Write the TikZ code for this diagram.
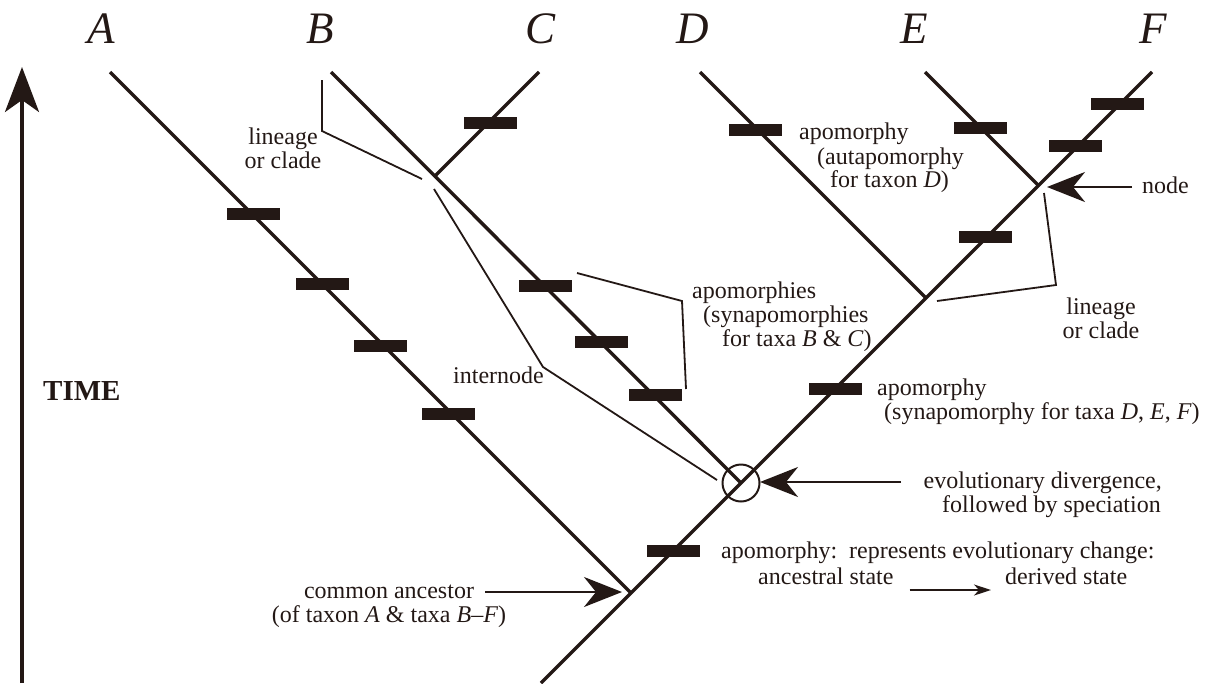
\documentclass[tikz,border=0pt]{standalone}
\usepackage{fontspec}
\setmainfont{Liberation Serif}
\usetikzlibrary{arrows.meta}
\definecolor{ink}{HTML}{231815}
\begin{document}
\begin{tikzpicture}[x=1pt,y=-1pt,
  branch/.style={draw=ink,line width=3.4pt},
  leader/.style={draw=ink,line width=1.8pt},
  apobar/.style={fill=ink,draw=none,rectangle,minimum width=53pt,minimum height=12pt,inner sep=0pt},
  lbl/.style={inner sep=0pt,text=ink,font=\fontsize{24}{24}\selectfont},
  taxon/.style={inner sep=0pt,text=ink,font=\fontsize{45}{45}\selectfont\itshape,anchor=base},
  bigarrow/.style={draw=ink,line width=2.4pt,-{Stealth[length=38pt,width=30pt,inset=12pt]}},
  smallarrow/.style={draw=ink,line width=1.6pt,-{Stealth[length=17pt,width=11pt,inset=5pt]}},
]
\useasboundingbox (0,0) rectangle (1212,683);

% ---------- time axis ----------
\coordinate (tbot) at (22,683);
\coordinate (ttop) at (22,67);
\draw[draw=ink,line width=3.5pt,-{Stealth[length=45pt,width=34pt,inset=12pt]}] (tbot) -- (ttop);
\node[inner sep=0pt,text=ink,font=\fontsize{29}{29}\selectfont\bfseries,anchor=base west] (time) at (43,400) {TIME};

% ---------- tree coordinates ----------
\coordinate (root) at (541,683);
\coordinate (ca) at (631,593);
\coordinate (dv) at (741,483);
\coordinate (dj) at (926,298);
\coordinate (ej) at (1038.5,185.5);
\coordinate (bc) at (435,176);
\coordinate (Atop) at (110,72);
\coordinate (Btop) at (331,72);
\coordinate (Ctop) at (539,72);
\coordinate (Dtop) at (700,72);
\coordinate (Etop) at (925,72);
\coordinate (Ftop) at (1152,72);

% ---------- branches ----------
\draw[branch] (root) -- (Ftop);
\draw[branch] (ca) -- (Atop);
\draw[branch] (dv) -- (Btop);
\draw[branch] (bc) -- (Ctop);
\draw[branch] (dj) -- (Dtop);
\draw[branch] (ej) -- (Etop);

% ---------- taxon letters ----------
\node[taxon] (tA) at (101,43) {A};
\node[taxon] (tB) at (320,43) {B};
\node[taxon] (tC) at (541,43) {C};
\node[taxon] (tD) at (693,43) {D};
\node[taxon] (tE) at (914,43) {E};
\node[taxon] (tF) at (1153,43) {F};

% ---------- apomorphy bars ----------
\node[apobar] (a1) at (253,214) {};
\node[apobar] (a2) at (322,284) {};
\node[apobar] (a3) at (380,346) {};
\node[apobar] (a4) at (448,414) {};
\node[apobar] (b1) at (545,286) {};
\node[apobar] (b2) at (601,342) {};
\node[apobar] (b3) at (655,395) {};
\node[apobar] (c1) at (490,123) {};
\node[apobar] (d1) at (755,130) {};
\node[apobar] (e1) at (980,128) {};
\node[apobar] (f1) at (1117,104) {};
\node[apobar] (f2) at (1075,146) {};
\node[apobar] (f3) at (985,237) {};
\node[apobar] (s1) at (835,389) {};
\node[apobar] (s2) at (673,551) {};

% ---------- divergence circle ----------
\node[circle,draw=ink,line width=2pt,minimum size=37pt,inner sep=0pt] (dvc) at (dv) {};

% ---------- leader lines ----------
\coordinate (ll1) at (322,80);
\coordinate (ll2) at (322,131);
\coordinate (ll3) at (422,179);
\draw[leader] (ll1) -- (ll2) -- (ll3);

\coordinate (in1) at (434,189);
\coordinate (in2) at (543,367);
\coordinate (in3) at (717,480);
\draw[leader] (in1) -- (in2) -- (in3);

\coordinate (ap1) at (577,273);
\coordinate (ap2) at (682,301);
\coordinate (ap3) at (686,389);
\draw[leader] (ap1) -- (ap2) -- (ap3);

\coordinate (rl1) at (1044,193);
\coordinate (rl2) at (1056,285);
\coordinate (rl3) at (937,301);
\draw[leader] (rl1) -- (rl2) -- (rl3);

% ---------- labels ----------
\node[lbl,anchor=base] (lin1a) at (283,144) {lineage};
\node[lbl,anchor=base] (lin1b) at (283,168) {or clade};

\node[lbl,anchor=base west] (intn) at (453,383) {internode};

\node[lbl,anchor=base west] (syn1) at (692,298) {apomorphies};
\node[lbl,anchor=base west] (syn2) at (703,322) {(synapomorphies};
\node[lbl,anchor=base west] (syn3) at (722,346) {for taxa \textit{B} \& \textit{C})};

\node[lbl,anchor=base west] (aut1) at (799,139) {apomorphy};
\node[lbl,anchor=base west] (aut2) at (817,164) {(autapomorphy};
\node[lbl,anchor=base west] (aut3) at (830,187) {for taxon \textit{D})};

\node[lbl,anchor=base west] (nodel) at (1142,193) {node};

\node[lbl,anchor=base] (lin2a) at (1101,314) {lineage};
\node[lbl,anchor=base] (lin2b) at (1101,338) {or clade};

\node[lbl,anchor=base west] (def1) at (877,395) {apomorphy};
\node[lbl,anchor=base west] (def2) at (884,419) {(synapomorphy for taxa \textit{D}, \textit{E}, \textit{F})};

\node[lbl,anchor=base east] (ev1) at (1162,488) {evolutionary divergence,};
\node[lbl,anchor=base east] (ev2) at (1161,512) {followed by speciation};

\node[lbl,anchor=base west] (leg1) at (721,558) {apomorphy:~~represents evolutionary change:};
\node[lbl,anchor=base west] (leg2) at (758,584) {ancestral state};
\node[lbl,anchor=base west] (leg3) at (1005,584) {derived state};

\node[lbl,anchor=base] (cal1) at (389,598) {common ancestor};
\node[lbl,anchor=base] (cal2) at (389,622) {(of taxon \textit{A} \& taxa \textit{B}\textendash\textit{F})};

% ---------- arrows ----------
\coordinate (nodetip) at (1047,187);
\coordinate (nodestart) at (1132,187);
\draw[bigarrow] (nodestart) -- (nodetip);

\coordinate (dvtip) at (760,482);
\coordinate (dvstart) at (901,482);
\draw[bigarrow] (dvstart) -- (dvtip);

\coordinate (catip) at (622,592);
\coordinate (castart) at (485,592);
\draw[bigarrow] (castart) -- (catip);

\draw[smallarrow] ([xshift=16pt,yshift=-6pt]leg2.base east) -- ([xshift=-14pt,yshift=-6pt]leg3.base west);
\end{tikzpicture}
\end{document}
